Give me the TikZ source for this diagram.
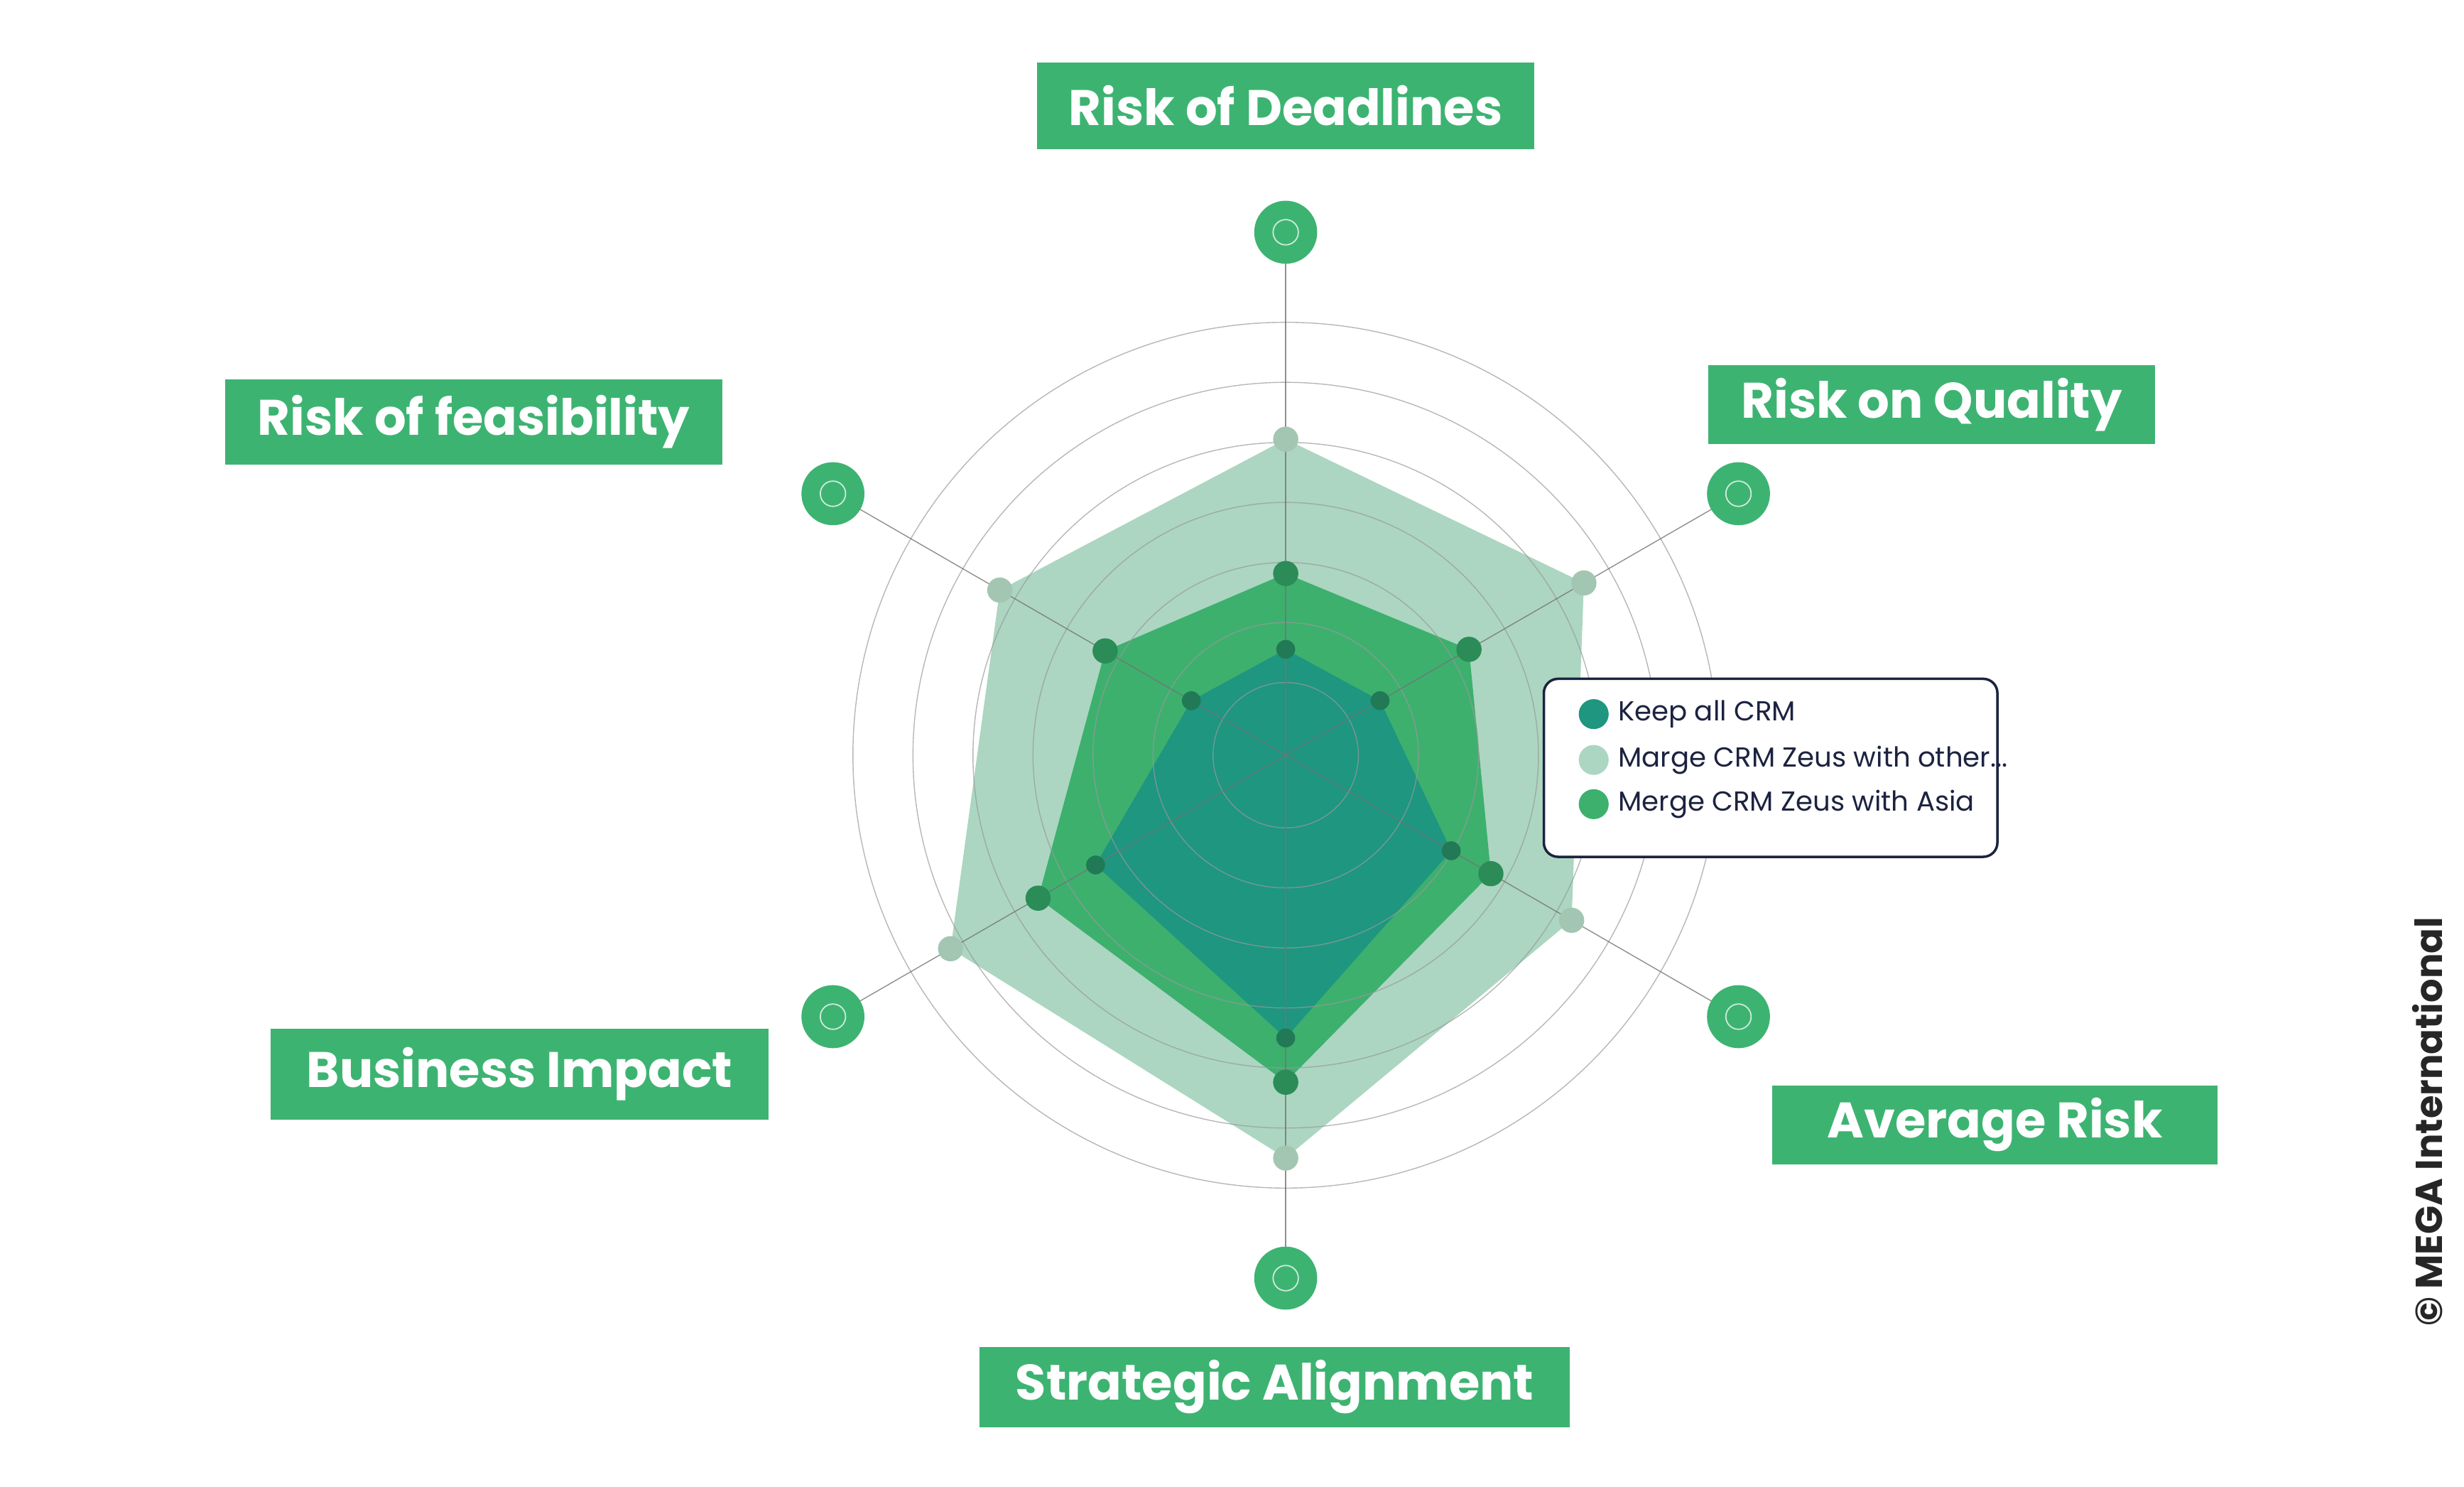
\documentclass[tikz,border=0pt]{standalone}
\usepackage{fontspec}
\setmainfont{Poppins}
\usetikzlibrary{positioning,calc}
\definecolor{boxgreen}{HTML}{3DB372}
\definecolor{keepteal}{HTML}{1E9680}
\definecolor{margelight}{HTML}{ACD6C1}
\definecolor{mergegreen}{HTML}{3DB06E}
\definecolor{lightdot}{HTML}{A3C6B2}
\definecolor{middot}{HTML}{2B8C57}
\definecolor{darkdot}{HTML}{217A55}
\definecolor{navy}{HTML}{1C2340}
\def\px{0.6307pt}
\begin{document}
\begin{tikzpicture}[x=0.022237cm, y=-0.022237cm,
    axislabel/.style={rectangle, fill=boxgreen, text=white, inner sep=0pt, minimum height=#1*\px, font=\fontsize{20}{24}\selectfont\bfseries},
    axislabel/.default=52,
    icon/.style={circle, fill=boxgreen, minimum size=40*\px, inner sep=0pt},
    ring/.style={draw=gray!80, line width=0.4pt},
    spoke/.style={draw=gray!90!black, line width=0.4pt},
    dot/.style={circle, fill=#1, minimum size=16*\px, inner sep=0pt},
    legdot/.style={circle, fill=#1, minimum size=19*\px, inner sep=0pt},
    legtext/.style={right, font=\fontsize{11}{13}\selectfont, text=navy},
]
\useasboundingbox (0,0) rectangle (1560,941);
\coordinate (c) at (814,478);

% series (y grows downward, so angles are mirrored)
\fill[margelight] ($(c)+(-90:200)$) -- ($(c)+(-30:218)$) -- ($(c)+(30:209)$) -- ($(c)+(90:255)$) -- ($(c)+(150:245)$) -- ($(c)+(-150:209)$) -- cycle;
\fill[mergegreen] ($(c)+(-90:115)$) -- ($(c)+(-30:134)$) -- ($(c)+(30:150)$) -- ($(c)+(90:207)$) -- ($(c)+(150:181)$) -- ($(c)+(-150:132)$) -- cycle;
\fill[keepteal] ($(c)+(-90:67)$) -- ($(c)+(-30:69)$) -- ($(c)+(30:121)$) -- ($(c)+(90:179)$) -- ($(c)+(150:139)$) -- ($(c)+(-150:69)$) -- cycle;

% rings
\foreach \r in {46,84,122,160,198,236,274}
  \draw[ring, opacity=0.7] (c) circle[radius=\r];

% icons and spokes
\foreach \a/\n in {-90/top,-30/ur,30/lr,90/bot,150/ll,-150/ul} {
  \draw[spoke, opacity=0.8] (c) -- ($(c)+(\a:331)$);
  \node[icon] (icon\n) at ($(c)+(\a:331)$) {};
  \draw[white!75!boxgreen, line width=0.5pt] (icon\n) circle[radius=8];
}

% dots
\foreach \a/\r in {-90/200,-30/218,30/209,90/255,150/245,-150/209}
  \node[dot=lightdot] at ($(c)+(\a:\r)$) {};
\foreach \a/\r in {-90/115,-30/134,30/150,90/207,150/181,-150/132}
  \node[dot=middot] at ($(c)+(\a:\r)$) {};
\foreach \a/\r in {-90/67,-30/69,30/121,90/179,150/139,-150/69}
  \node[dot=darkdot, minimum size=12*\px] at ($(c)+(\a:\r)$) {};

% labels
\node[axislabel=55, minimum width=316*\px] (deadlines) at (814,67) {Risk of Deadlines};
\node[axislabel=50, minimum width=284*\px] (quality) at (1223,256) {Risk on Quality};
\node[axislabel=54, minimum width=316*\px] (feasibility) at (300,267) {Risk of feasibility};
\node[axislabel=58, minimum width=316*\px] (impact) at (329,680) {Business Impact};
\node[axislabel=50, minimum width=283*\px] (average) at (1263,712) {Average Risk};
\node[axislabel=51, minimum width=375*\px] (strategic) at (807,878) {Strategic Alignment};

% legend
\node[draw=navy, line width=1pt, fill=white, rounded corners=9*\px, minimum width=288*\px, minimum height=113*\px] (legend) at (1121,486) {};
\node[legdot=keepteal] (keepdot) at (1009,452) {};
\node[legtext] at (1019,452) {Keep all CRM};
\node[legdot=margelight] (margedot) at (1009,481) {};
\node[legtext] at (1019,481) {Marge CRM Zeus with other...};
\node[legdot=mergegreen] (mergedot) at (1009,509) {};
\node[legtext] at (1019,509) {Merge CRM Zeus with Asia};

\node[rotate=90, font=\fontsize{15}{18}\selectfont\bfseries, text=black!85] (copy) at (1537,710) {© MEGA International};
\end{tikzpicture}
\end{document}
